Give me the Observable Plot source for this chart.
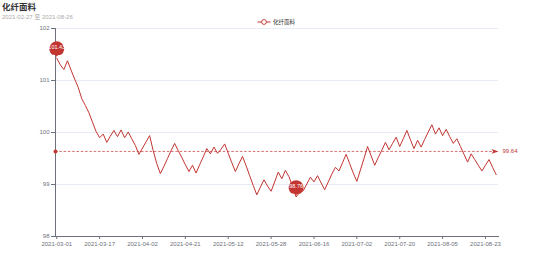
<!DOCTYPE html>
<html>
<head>
<meta charset="utf-8">
<script src="https://cdn.jsdelivr.net/npm/d3@7"></script>
<script src="https://cdn.jsdelivr.net/npm/@observablehq/plot@0.6"></script>
<style>
  html, body { margin: 0; padding: 0; background: #fff; overflow: hidden; }
  #wrap { position: relative; width: 554px; height: 265px; overflow: hidden; }
  #chart { position: absolute; left: 0; top: 0; width: 554px; height: 265px; }
  #chart svg { display: block; }
  .ov { position: absolute; white-space: nowrap; line-height: 1; }
  #title { left: 2px; top: 1.5px; height: 9px; font: bold 8.5px "Noto Sans CJK SC", sans-serif; line-height: 9px; color: #333; }
  #sub { left: 2px; top: 14px; height: 6px; font: 6px "Liberation Sans", "Noto Sans CJK SC", sans-serif; line-height: 6px; color: #aaa; }
  #legend { left: 257px; top: 18px; display: flex; align-items: center; font: 5.5px "Noto Sans CJK SC", sans-serif; color: #333; }
  #legend svg { margin-right: 2px; }
</style>
</head>
<body>
<div id="wrap">
  <div id="chart"></div>
  <div class="ov" id="title"></div>
  <div class="ov" id="sub"></div>
  <div class="ov" id="legend"></div>
</div>
<script>
const titleText = "化纤面料";
const subtitleText = "2021-02-27 至 2021-08-26";
const seriesName = "化纤面料";
const lineColor = "#c23531";

// x tick labels (every 12th trading day)
const tickLabels = ["2021-03-01","2021-03-17","2021-04-02","2021-04-21","2021-05-12","2021-05-28",
                    "2021-06-16","2021-07-02","2021-07-20","2021-08-05","2021-08-23"];
const tickEvery = 12;
const yTicks = [98, 99, 100, 101, 102];

// daily index values, 2021-03-01 .. 2021-08-26 (trading days)
const values = [
  101.43,101.30,101.21,101.38,101.20,101.03,100.87,100.65,100.52,100.38,100.20,100.02,
  99.90,99.97,99.81,99.93,100.04,99.92,100.05,99.90,100.01,99.88,99.75,99.58,
  99.70,99.82,99.94,99.65,99.40,99.21,99.35,99.50,99.65,99.79,99.65,99.52,
  99.38,99.25,99.37,99.22,99.38,99.53,99.69,99.59,99.72,99.60,99.68,99.78,
  99.60,99.42,99.25,99.40,99.54,99.36,99.17,98.98,98.80,98.95,99.09,98.97,
  98.87,99.05,99.24,99.11,99.27,99.15,98.96,98.76,98.85,98.88,99.01,99.14,
  99.05,99.17,99.03,98.90,99.05,99.20,99.33,99.26,99.42,99.58,99.40,99.22,
  99.06,99.28,99.50,99.73,99.55,99.37,99.52,99.66,99.81,99.67,99.79,99.91,
  99.73,99.88,100.04,99.86,99.69,99.85,99.72,99.87,100.01,100.15,99.97,100.09,
  99.94,100.06,99.92,99.79,99.88,99.73,99.58,99.43,99.59,99.48,99.37,99.26,
  99.37,99.48,99.33,99.19
];

const series = values.map((v, i) => ({i, v}));
const avg = d3.mean(values);
const iMax = d3.maxIndex(values), iMin = d3.minIndex(values);
const extremes = [series[iMax], series[iMin]];

// ECharts-like pin symbol with its tip at the anchor point
const pin = {
  draw(ctx) {
    const h = 21, r = 7.5;
    const dy = r * r / (h - r);
    const cy = -h + r + dy;
    const angle = Math.asin(dy / r);
    const dx = Math.cos(angle) * r;
    const tanX = Math.sin(angle), tanY = Math.cos(angle);
    const cp = r * 0.6, cp2 = r * 0.7;
    ctx.moveTo(-dx, cy + dy);
    ctx.arc(0, cy, r, Math.PI - angle, Math.PI * 2 + angle);
    ctx.bezierCurveTo(dx - tanX * cp, cy + dy + tanY * cp, 0, -cp2, 0, 0);
    ctx.bezierCurveTo(0, -cp2, -dx + tanX * cp, cy + dy + tanY * cp, -dx, cy + dy);
    ctx.closePath();
  }
};
const arrow = {
  draw(ctx) {
    ctx.moveTo(0, 0);
    ctx.lineTo(-7, -2.4);
    ctx.lineTo(-5.2, 0);
    ctx.lineTo(-7, 2.4);
    ctx.closePath();
  }
};

const xTicks = tickLabels.map((_, k) => k * tickEvery);

const chart = Plot.plot({
  width: 554,
  height: 265,
  marginLeft: 55,
  marginRight: 56,
  marginTop: 28,
  marginBottom: 29,
  style: {fontFamily: "'Liberation Sans', 'Noto Sans CJK SC', sans-serif", fontSize: "6px", color: "#6E7079", background: "transparent"},
  x: {type: "linear", domain: [-0.35, 123.65], axis: null, label: null},
  y: {domain: [98, 102], axis: null, label: null},
  marks: [
    Plot.gridY(yTicks, {stroke: "#E0E6F1", strokeOpacity: 1, strokeWidth: 0.8}),
    Plot.axisY(yTicks, {label: null, tickSize: 4, tickPadding: 2, stroke: "#6E7079", fill: "#6E7079", tickFormat: d => d}),
    Plot.axisX(xTicks, {label: null, tickSize: 3, tickPadding: 2, stroke: "#6E7079", fill: "#6E7079", tickFormat: i => tickLabels[i / tickEvery]}),
    Plot.frame({anchor: "left", stroke: "#6E7079"}),
    Plot.frame({anchor: "bottom", stroke: "#6E7079"}),
    Plot.ruleY([avg], {stroke: lineColor, strokeDasharray: "2.5,1.8", strokeWidth: 0.7}),
    Plot.dot([avg], {y: d => d, frameAnchor: "left", r: 2, fill: lineColor, stroke: null}),
    Plot.dot([avg], {y: d => d, frameAnchor: "right", symbol: arrow, fill: lineColor, stroke: null, r: 4}),
    Plot.text([avg], {y: d => d, frameAnchor: "right", dx: 4, textAnchor: "start", fill: lineColor, fontSize: 6, text: d => d.toFixed(2)}),
    Plot.line(series, {x: "i", y: "v", stroke: lineColor, strokeWidth: 1}),
    Plot.dot(extremes, {x: "i", y: "v", symbol: pin, fill: lineColor, stroke: null, r: 8}),
    Plot.text(extremes, {x: "i", y: "v", dy: -11, fill: "#fff", fontSize: 5.5, text: d => d.v.toFixed(2)})
  ]
});
document.getElementById("chart").appendChild(chart);

document.getElementById("title").textContent = titleText;
document.getElementById("sub").textContent = subtitleText;
const leg = document.getElementById("legend");
leg.innerHTML = `<svg width="14" height="8" viewBox="0 0 14 8"><line x1="0.5" y1="4" x2="13.5" y2="4" stroke="${lineColor}" stroke-width="1"/><circle cx="7" cy="4" r="2.4" fill="#fff" stroke="${lineColor}" stroke-width="0.9"/></svg><span></span>`;
leg.querySelector("span").textContent = seriesName;
</script>
</body>
</html>
